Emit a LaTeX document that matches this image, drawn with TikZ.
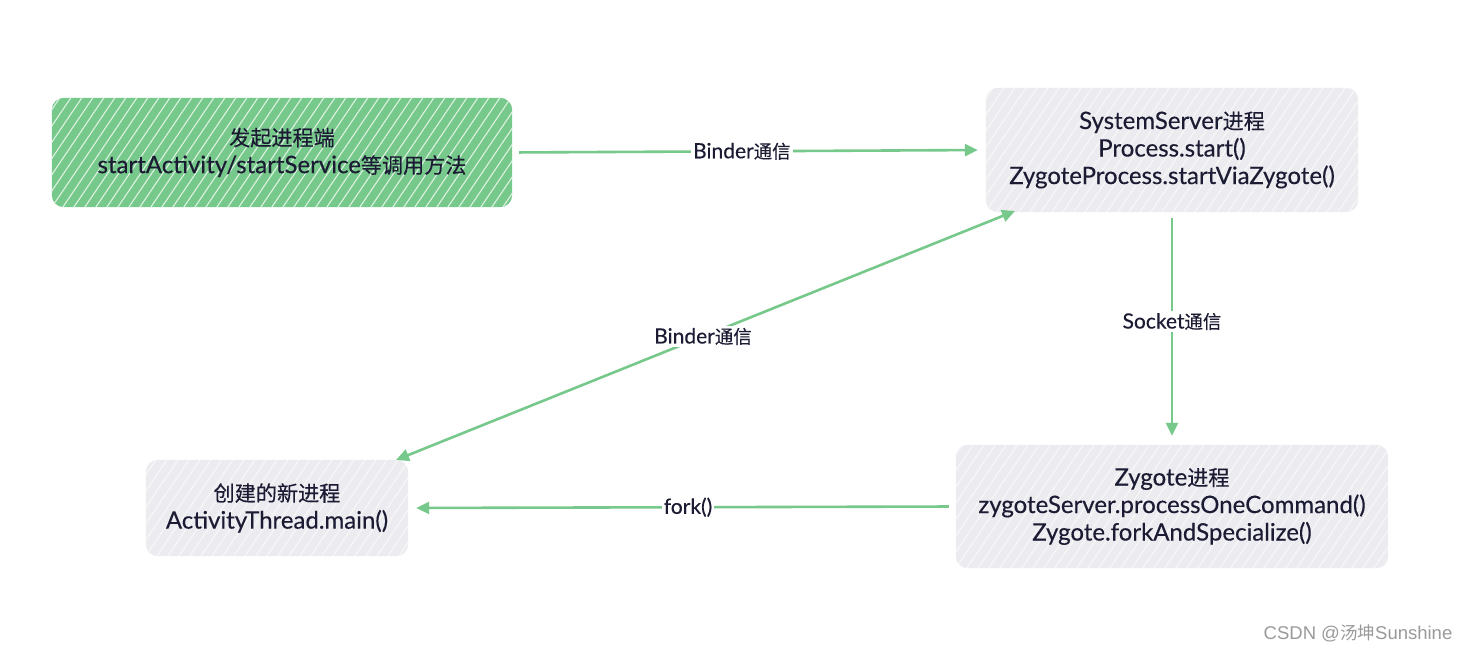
\documentclass[tikz,border=0pt]{standalone}
\usepackage{fontspec}
\setmainfont{Lato}[FakeBold=0.3]
\newfontfamily\cjk{Noto Sans CJK SC}[Scale=0.88,FakeBold=0.3]
\newfontfamily\wmfont{Liberation Sans}
\newfontfamily\wmcjk{Noto Sans CJK SC}[Scale=0.95]
\usetikzlibrary{arrows.meta,calc}
\pgfdeclarelayer{background}
\pgfsetlayers{background,main}
\definecolor{grn}{HTML}{77C98B}
\definecolor{gbox}{HTML}{ECEBEF}
\definecolor{ink}{HTML}{1B1B33}
\definecolor{wm}{HTML}{9A9A9A}
\newcommand\boxfont{\fontsize{24}{27.5}\selectfont}
\newcommand\lblfont{\fontsize{21}{24}\selectfont}
\newcommand\boxbg[3]{%
  \begin{pgfonlayer}{background}
    \fill[#2,rounded corners=12pt] (#1.south west) rectangle (#1.north east);
    \begin{scope}
      \clip[rounded corners=12pt] (#1.south west) rectangle (#1.north east);
      \foreach \k in {-110,-99,...,480}
        \draw[white,opacity=#3,line width=1.1pt] ($(#1.south west)+(\k,0)$) -- ++(88,-130);
    \end{scope}
  \end{pgfonlayer}}
\tikzset{
  x=1pt,y=-1pt,
  box/.style={rectangle,inner sep=0pt,align=center,font=\boxfont,text=ink},
  lbl/.style={fill=white,inner sep=2pt,font=\lblfont,text=ink},
  arr/.style={draw=grn,line width=2.6pt,-{Triangle[length=13pt,width=12pt]}},
  darr/.style={draw=grn,line width=2.6pt,{Triangle[length=13pt,width=12pt]}-{Triangle[length=13pt,width=12pt]}}
}
\begin{document}
\begin{tikzpicture}
\begin{pgfonlayer}{background}
\fill[white] (0,0) rectangle (1470,652);
\end{pgfonlayer}
\useasboundingbox (0,0) rectangle (1470,652);

\node[box,minimum width=460pt,minimum height=109pt] (g) at (282,152.5)
  {\cjk{发起进程端}\\startActivity/startService\cjk{等调用方法}};
\boxbg{g}{grn}{0.75}

\node[box,minimum width=372pt,minimum height=124pt] (ss) at (1172,150)
  {SystemServer\cjk{进程}\\Process.start()\\ZygoteProcess.startViaZygote()};
\boxbg{ss}{gbox}{0.6}

\node[box,minimum width=432pt,minimum height=123pt] (z) at (1172,506.5)
  {Zygote\cjk{进程}\\zygoteServer.processOneCommand()\\Zygote.forkAndSpecialize()};
\boxbg{z}{gbox}{0.6}

\node[box,minimum width=262pt,minimum height=96pt] (n) at (277,508)
  {\cjk{创建的新进程}\\ActivityThread.main()};
\boxbg{n}{gbox}{0.6}

\coordinate (p1) at (396,460);
\coordinate (p2) at (1015,211);

\draw[arr,shorten <=7pt,shorten >=8pt] (g.east) -- node[lbl,pos=0.485]{Binder\cjk{通信}} (ss.west);
\draw[arr,shorten <=6pt,shorten >=9pt] (ss.south) -- node[lbl,pos=0.47]{Socket\cjk{通信}} (z.north);
\draw[arr,shorten <=7pt,shorten >=8pt] (z.west) -- node[lbl,pos=0.489]{fork()} (n.east);
\draw[darr] (p1) -- node[lbl,pos=0.496]{Binder\cjk{通信}} (p2);

\node[text=wm,font=\fontsize{18.5}{22}\selectfont] (wmk) at (1358,633)
  {\wmfont CSDN @\wmcjk{汤坤}\wmfont Sunshine};
\end{tikzpicture}
\end{document}
